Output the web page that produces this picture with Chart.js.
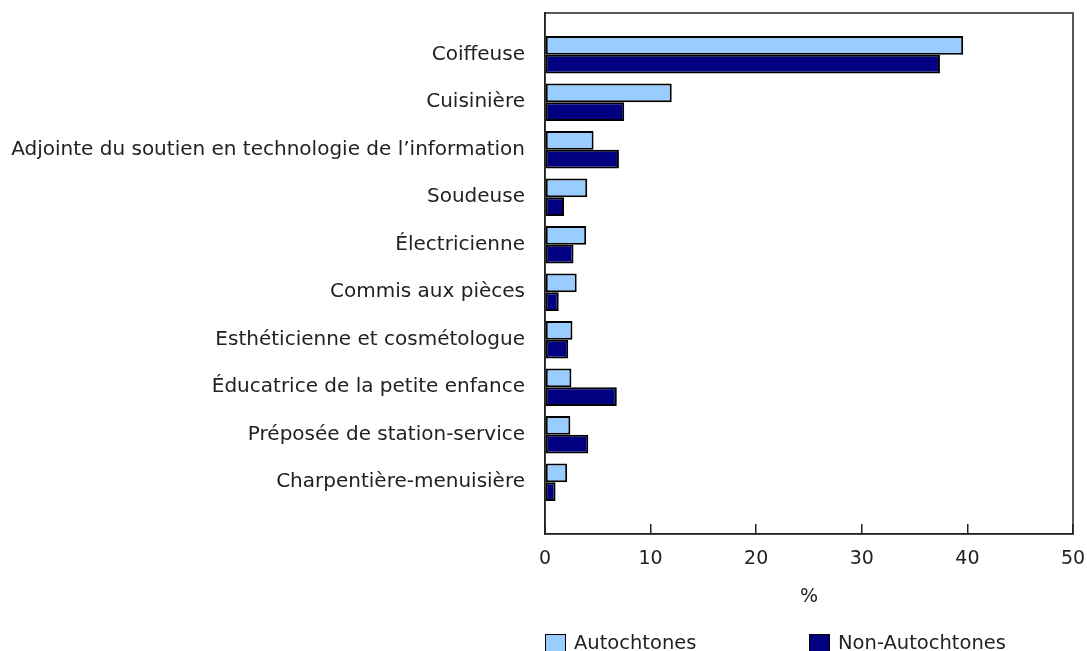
<!DOCTYPE html>
<html>
<head>
<meta charset="utf-8">
<script src="https://cdn.jsdelivr.net/npm/chart.js@4.4.0/dist/chart.umd.min.js"></script>
<style>
    body { margin: 0; background: #fff; }
    #wrap { position: relative; width: 1087px; height: 651px; }
    #legend { position: absolute; top: 631px; display: flex; font: 19.5px "DejaVu Sans", Verdana, sans-serif; color: #222; }
    .item { display: flex; align-items: center; width: 50%; }
    .box { width: 19px; height: 16px; border: 1px solid #000; margin-right: 8px; }
</style>
</head>
<body>
<div id="wrap">
    <canvas id="barChart" width="1087" height="651"></canvas>
    <div id="legend"></div>
</div>
<script>
const categories = [
    "Coiffeuse",
    "Cuisinière",
    "Adjointe du soutien en technologie de l\u2019information",
    "Soudeuse",
    "Électricienne",
    "Commis aux pièces",
    "Esthéticienne et cosmétologue",
    "Éducatrice de la petite enfance",
    "Préposée de station-service",
    "Charpentière-menuisière"
];
const autochtones = [39.6, 12.0, 4.6, 4.0, 3.9, 3.0, 2.6, 2.5, 2.4, 2.1];
const nonAutochtones = [37.4, 7.5, 7.0, 1.8, 2.7, 1.3, 2.2, 6.8, 4.1, 1.0];
const xTicks = [0, 10, 20, 30, 40, 50];
const seriesNames = ["Autochtones", "Non-Autochtones"];
const seriesColors = ['#99CCFF', '#000080'];

const family = '"DejaVu Sans", Verdana, sans-serif';
const textColor = '#222';

// box around the plot area
const frame = {
    id: 'frame',
    afterDraw(chart) {
        const a = chart.chartArea;
        const ctx = chart.ctx;
        ctx.save();
        ctx.strokeStyle = '#222';
        ctx.lineWidth = 1.5;
        ctx.strokeRect(a.left, a.top, a.right - a.left, a.bottom - a.top);
        ctx.restore();
    }
};

// labels are allowed to hang past the plot edges
function noEdgePadding(s) {
    s.paddingTop = 0;
    s.paddingBottom = 0;
    s.paddingLeft = 0;
    s.paddingRight = 0;
}

const datasets = [autochtones, nonAutochtones].map((values, index) => ({
    label: seriesNames[index],
    data: values.map((v, i) => ({ x: v, y: i })),
    backgroundColor: seriesColors[index],
    borderColor: '#000',
    borderWidth: 2,
    borderSkipped: false,
    barPercentage: 1,
    categoryPercentage: 0.79
}));

const chart = new Chart(document.getElementById('barChart').getContext('2d'), {
    type: 'bar',
    data: { datasets: datasets },
    options: {
        indexAxis: 'y',
        responsive: false,
        animation: false,
        layout: { padding: { top: 13, right: 14, bottom: 42.5, left: 0 } },
        plugins: {
            legend: { display: false },
            tooltip: { enabled: false }
        },
        scales: {
            x: {
                type: 'linear',
                min: 0,
                max: 50,
                afterBuildTicks: s => { s.ticks = xTicks.map(v => ({ value: v })); },
                afterFit: noEdgePadding,
                grid: { drawOnChartArea: false, drawTicks: true, tickLength: -10, color: '#222', lineWidth: 1.5 },
                border: { display: true, color: '#222', width: 1.5 },
                ticks: { padding: 24, color: textColor, font: { family: family, size: 19 } },
                title: { display: true, text: '%', color: textColor, font: { family: family, size: 19 }, padding: { top: -9, bottom: 0 } }
            },
            y: {
                type: 'linear',
                reverse: true,
                offset: false,
                min: -0.88,
                max: 10.09,
                afterBuildTicks: s => { s.ticks = categories.map((c, i) => ({ value: i })); },
                afterFit: s => { s.width = 545; noEdgePadding(s); },
                grid: { display: false, drawTicks: false, offset: false },
                border: { display: true, color: '#222', width: 1.5 },
                ticks: { autoSkip: false, padding: 20, color: textColor, font: { family: family, size: 20 }, callback: v => categories[v] }
            }
        }
    },
    plugins: [frame]
});

// legend laid out in two columns over the plot width
const area = chart.chartArea;
const legend = document.getElementById('legend');
legend.style.left = area.left + 'px';
legend.style.width = (area.right - area.left) + 'px';
seriesNames.forEach((name, index) => {
    const item = document.createElement('div');
    item.className = 'item';
    const box = document.createElement('span');
    box.className = 'box';
    box.style.background = seriesColors[index];
    const label = document.createElement('span');
    label.innerText = name;
    item.appendChild(box);
    item.appendChild(label);
    legend.appendChild(item);
});
</script>
</body>
</html>
